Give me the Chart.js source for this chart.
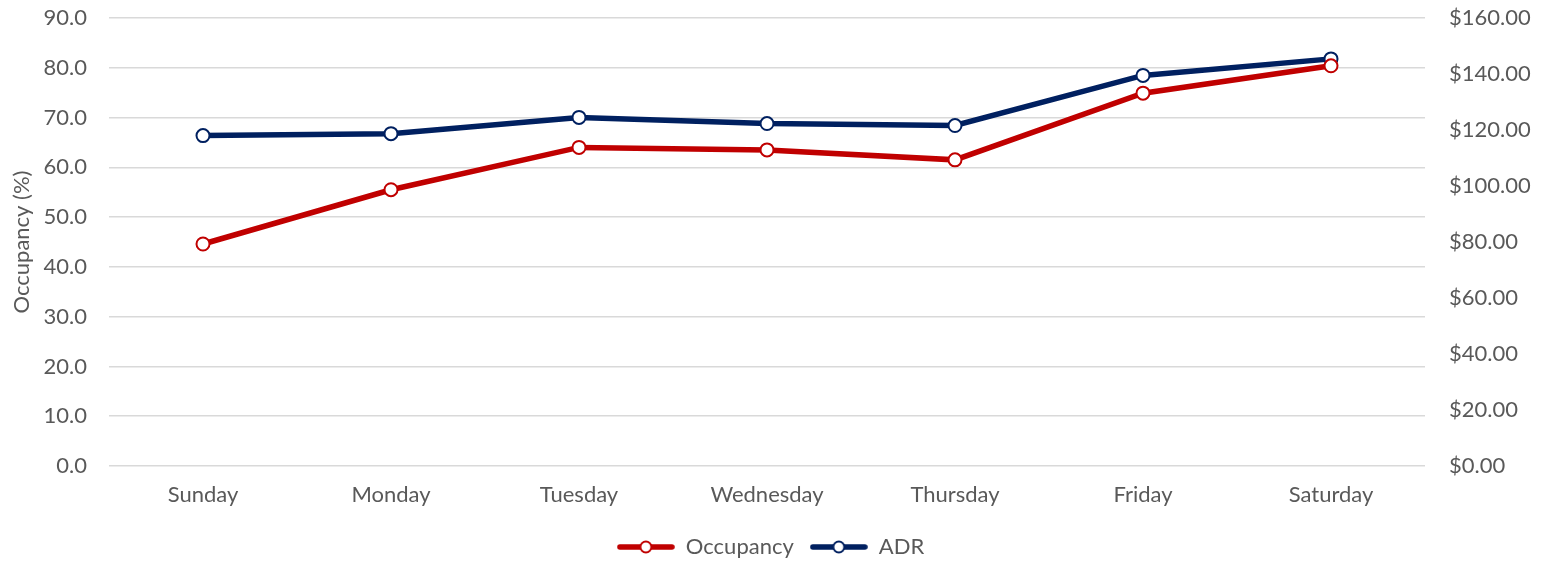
<!DOCTYPE html>
<html>
<head>
<meta charset="utf-8">
<script src="https://cdn.jsdelivr.net/npm/chart.js@4.4.1/dist/chart.umd.min.js"></script>
<style>
  html, body { margin: 0; padding: 0; background: #fff; }
  #wrap { width: 1541px; height: 568px; position: relative; }
</style>
</head>
<body>
<div id="wrap"><canvas id="myChart" width="1541" height="568"></canvas></div>
<script>
const days = ['Sunday', 'Monday', 'Tuesday', 'Wednesday', 'Thursday', 'Friday', 'Saturday'];
const occupancy = [44.6, 55.5, 64.0, 63.5, 61.5, 74.9, 80.4];
const adr = [118.0, 118.7, 124.5, 122.3, 121.6, 139.5, 145.4];

const red = '#c00000';
const navy = '#002060';
const textGrey = '#595959';
const fontFamily = 'Lato, "Noto Sans", sans-serif';
const fontSize = 22;

// legend marker: short thick line with a hollow circle on it
function legendMarker(color) {
    const c = document.createElement('canvas');
    c.width = 58; c.height = 16;
    const g = c.getContext('2d');
    g.strokeStyle = color;
    g.lineWidth = 5.5;
    g.lineCap = 'round';
    g.beginPath(); g.moveTo(3, 8); g.lineTo(55, 8); g.stroke();
    g.beginPath(); g.arc(29, 8, 5.5, 0, Math.PI * 2);
    g.fillStyle = '#fff'; g.fill();
    g.lineWidth = 2; g.stroke();
    return c;
}

const ctx = document.getElementById('myChart').getContext('2d');
const myChart = new Chart(ctx, {
    type: 'line',
    data: {
        labels: days,
        datasets: [{
            label: 'Occupancy',
            data: occupancy,
            yAxisID: 'y',
            borderColor: red,
            backgroundColor: red,
            borderWidth: 5.5,
            pointRadius: 6.5,
            pointBorderWidth: 2,
            pointBackgroundColor: '#fff',
            pointBorderColor: red
        }, {
            label: 'ADR',
            data: adr,
            yAxisID: 'y1',
            borderColor: navy,
            backgroundColor: navy,
            borderWidth: 5.5,
            pointRadius: 6.5,
            pointBorderWidth: 2,
            pointBackgroundColor: '#fff',
            pointBorderColor: navy
        }]
    },
    options: {
        responsive: false,
        animation: false,
        layout: { padding: { top: 18, bottom: 0 } },
        scales: {
            x: {
                offset: true,
                grid: { display: false },
                border: { display: false },
                ticks: { color: textGrey, font: { family: fontFamily, size: fontSize }, padding: 8 },
                afterFit: s => { s.height = 54; }
            },
            y: {
                position: 'left',
                min: 0, max: 90,
                ticks: {
                    stepSize: 10, color: textGrey, padding: 22,
                    font: { family: fontFamily, size: fontSize },
                    callback: v => v.toFixed(1)
                },
                grid: { color: '#d9d9d9', lineWidth: 1.5, drawTicks: false },
                border: { display: false },
                title: {
                    display: true, text: 'Occupancy (%)', color: textGrey,
                    font: { family: fontFamily, size: fontSize }, padding: { top: 9, bottom: 0 }
                },
                afterFit: s => { s.width = 109; s.paddingTop = 0; }
            },
            y1: {
                position: 'right',
                min: 0, max: 160,
                ticks: {
                    stepSize: 20, color: textGrey, padding: 16,
                    font: { family: fontFamily, size: fontSize },
                    callback: v => '$' + v.toFixed(2)
                },
                grid: { display: false },
                border: { display: false },
                afterFit: s => { s.width = 116; s.paddingTop = 0; }
            }
        },
        plugins: {
            legend: {
                position: 'bottom',
                labels: {
                    usePointStyle: true,
                    pointStyleWidth: 58,
                    color: textGrey,
                    font: { family: fontFamily, size: fontSize },
                    padding: 16,
                    generateLabels: chart => chart.data.datasets.map((ds, i) => ({
                        text: ds.label,
                        fontColor: textGrey,
                        pointStyle: legendMarker(ds.borderColor),
                        datasetIndex: i,
                        hidden: false,
                        lineWidth: 0
                    }))
                }
            },
            tooltip: { enabled: false }
        }
    }
});
</script>
</body>
</html>
